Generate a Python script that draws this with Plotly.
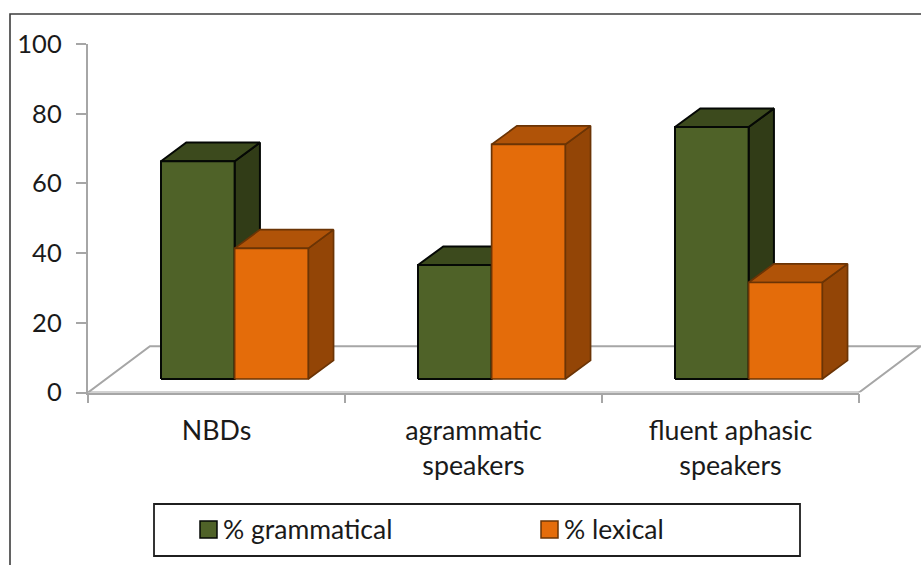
import plotly.graph_objects as go

# Chart data
categories = ["NBDs", "agrammatic<br>speakers", "fluent aphasic<br>speakers"]
grammatical = [62.5, 32.7, 72.3]
lexical = [37.5, 67.3, 27.7]
y_ticks = [0, 20, 40, 60, 80, 100]

WIDTH, HEIGHT = 921, 565
FONT = "Lato, 'Open Sans', sans-serif"
TEXT = "#1a1a1a"
GRID = "#a6a6a6"

# Oblique projection: depth is expressed in axis units
BAR_START = 0.284      # left edge of the first bar within a category slot
BAR_WIDTH = 0.2865
BAR_DX, BAR_DY = 0.0985, 5.35
BASE_LIFT = 3.87       # bars stand mid-way across the floor
FLOOR_DX, FLOOR_DY = 0.241, 13.3

# The drawing axis runs to the page edge so the floor is not clipped
X_LEFT, X_RIGHT = 88, 859
DRAW_RANGE = len(categories) * (WIDTH - X_LEFT) / (X_RIGHT - X_LEFT)

series = [
    dict(name="% grammatical", values=grammatical, slot=0, key_x=200, text_x=221,
         front="#4f6228", top="#3c4a1d", side="#313c17", edge="#050805", edge_width=2),
    dict(name="% lexical", values=lexical, slot=1, key_x=541, text_x=562,
         front="#e46c0a", top="#b05308", side="#934506", edge="#6b3405", edge_width=1.7),
]


def face(xs, ys, s, fill):
    return go.Scatter(x=xs, y=ys, xaxis="x2", yaxis="y", mode="lines",
                      fill="toself", fillcolor=fill,
                      line=dict(color=s["edge"], width=s["edge_width"]),
                      hoverinfo="skip", showlegend=False)


fig = go.Figure()

# Front edge of the floor, on the labelled axis
fig.add_trace(go.Scatter(x=[0, len(categories)], y=[0, 0], mode="lines",
                         line=dict(color=GRID, width=2),
                         hoverinfo="skip", showlegend=False))

# Remaining floor edges, behind the columns
fig.add_trace(go.Scatter(
    x=[0, FLOOR_DX, len(categories) + FLOOR_DX, len(categories)],
    y=[0, FLOOR_DY, FLOOR_DY, 0],
    xaxis="x2", yaxis="y", mode="lines", line=dict(color=GRID, width=2),
    hoverinfo="skip", showlegend=False))

# Columns, each built from its side, top and front faces
for i in range(len(categories)):
    for s in series:
        v = s["values"][i]
        x0 = i + BAR_START + s["slot"] * BAR_WIDTH
        x1 = x0 + BAR_WIDTH
        y0 = BASE_LIFT
        y1 = BASE_LIFT + v
        fig.add_trace(face([x1, x1 + BAR_DX, x1 + BAR_DX, x1, x1],
                           [y0, y0 + BAR_DY, y1 + BAR_DY, y1, y0],
                           s, s["side"]))
        fig.add_trace(face([x0, x0 + BAR_DX, x1 + BAR_DX, x1, x0],
                           [y1, y1 + BAR_DY, y1 + BAR_DY, y1, y1],
                           s, s["top"]))
        fig.add_trace(face([x0, x1, x1, x0, x0],
                           [y0, y0, y1, y1, y0],
                           s, s["front"]))

shapes = [
    # Outer chart frame
    dict(type="path", xref="paper", yref="paper",
         path=f"M {10 / WIDTH} 0 L {10 / WIDTH} {(HEIGHT - 14) / HEIGHT} L 1 {(HEIGHT - 14) / HEIGHT}",
         line=dict(color="#3d3d3d", width=1.6)),
    # Legend box
    dict(type="rect", xref="paper", yref="paper",
         x0=154 / WIDTH, x1=800 / WIDTH,
         y0=(HEIGHT - 556) / HEIGHT, y1=(HEIGHT - 504) / HEIGHT,
         line=dict(color="#1f1f1f", width=1.8)),
]
annotations = []

# Legend keys and labels
for s in series:
    shapes.append(dict(type="rect", xref="paper", yref="paper",
                       x0=s["key_x"] / WIDTH, x1=(s["key_x"] + 17) / WIDTH,
                       y0=(HEIGHT - 538) / HEIGHT, y1=(HEIGHT - 521) / HEIGHT,
                       fillcolor=s["front"], line=dict(color=s["edge"], width=1.5)))
    annotations.append(dict(text=s["name"], xref="paper", yref="paper",
                            x=s["text_x"] / WIDTH, xanchor="left",
                            y=(HEIGHT - 529) / HEIGHT, yanchor="middle",
                            showarrow=False,
                            font=dict(size=26.5, color=TEXT, family=FONT)))

fig.update_layout(
    width=WIDTH, height=HEIGHT, autosize=False,
    margin=dict(l=0, r=0, t=0, b=0, autoexpand=False),
    paper_bgcolor="white", plot_bgcolor="rgba(0,0,0,0)",
    font=dict(family=FONT, size=26, color=TEXT),
    showlegend=False,
    xaxis=dict(
        domain=[X_LEFT / WIDTH, X_RIGHT / WIDTH], range=[0, len(categories)],
        anchor="y", automargin=False,
        tickmode="array",
        tickvals=[i + 0.5 for i in range(len(categories))],
        ticktext=categories, ticks="", showgrid=False, zeroline=False,
        showline=True, linecolor=GRID, linewidth=1.5,
        ticklabelstandoff=14,
        minor=dict(tickmode="array",
                   tickvals=list(range(len(categories) + 1)),
                   ticks="outside", ticklen=9, tickwidth=2,
                   tickcolor=GRID, showgrid=False),
        tickfont=dict(size=26.8, color=TEXT)),
    xaxis2=dict(
        domain=[X_LEFT / WIDTH, 1], range=[0, DRAW_RANGE], anchor="y",
        automargin=False, visible=False),
    yaxis=dict(
        domain=[(HEIGHT - 392.5) / HEIGHT, (HEIGHT - 44) / HEIGHT],
        range=[0, 100], tickmode="array", tickvals=y_ticks, anchor="x",
        automargin=False,
        ticks="outside", ticklen=10, tickwidth=2, tickcolor=GRID,
        showgrid=False, zeroline=False,
        showline=True, linecolor=GRID, linewidth=2.4,
        ticklabelstandoff=9,
        tickfont=dict(size=25.5, color=TEXT)),
    shapes=shapes,
    annotations=annotations,
)

fig.write_html("out.html")
